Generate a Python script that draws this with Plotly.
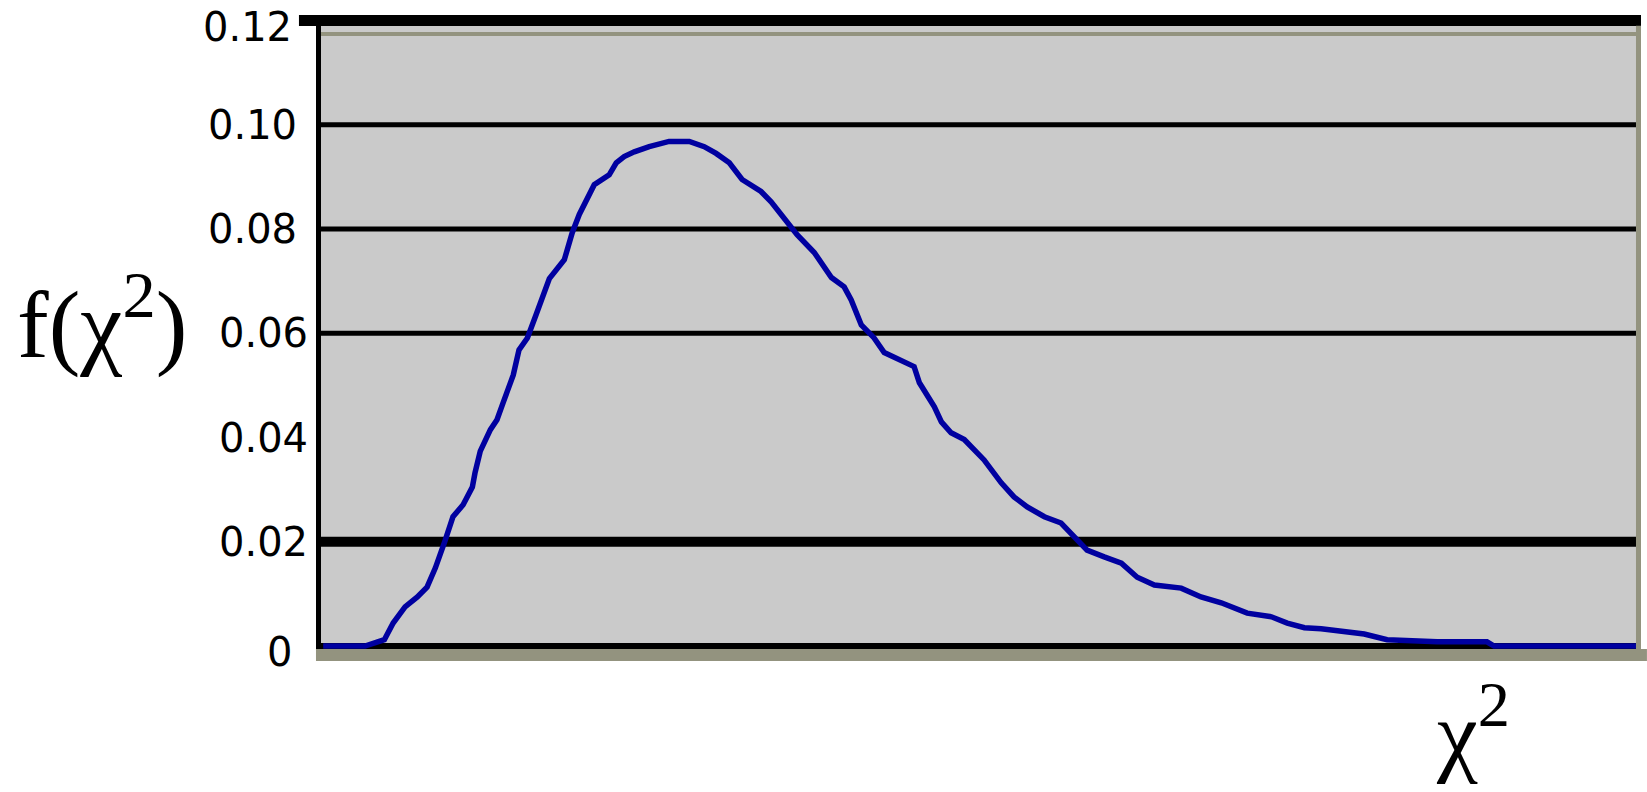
import plotly.graph_objects as go

# ---- data ----
chi_sq = [0.0, 0.95, 1.39, 1.59, 1.86, 2.14, 2.36, 2.55, 2.77, 2.95, 3.18, 3.39, 3.45, 3.57,
          3.80, 3.95, 4.09, 4.32, 4.45, 4.64, 4.84, 4.98, 5.14, 5.48, 5.66, 5.82, 6.0, 6.16,
          6.5, 6.66, 6.84, 7.07, 7.41, 7.86, 8.32, 8.66, 8.93, 9.23, 9.52, 9.95, 10.18,
          10.43, 10.77, 11.16, 11.55, 11.84, 12.0, 12.23, 12.52, 12.75, 13.14, 13.43, 13.55,
          13.89, 14.05, 14.27, 14.57, 14.75, 15.02, 15.41, 15.70, 16.0, 16.39, 16.77, 17.07,
          17.36, 17.75, 18.14, 18.5, 18.89, 19.5, 19.95, 20.41, 21.0, 21.55, 21.91, 22.30,
          22.68, 23.66, 24.18, 25.32, 26.45, 26.61, 30.0]
density = [0.0, 0.0, 0.0012, 0.0044, 0.0075, 0.0094, 0.0113, 0.0150, 0.0202, 0.0248, 0.0271,
           0.0305, 0.0332, 0.0374, 0.0415, 0.0434, 0.0467, 0.0520, 0.0568, 0.0591, 0.0636,
           0.0672, 0.0705, 0.0741, 0.0793, 0.0828, 0.0856, 0.0885, 0.0904, 0.0927, 0.0939,
           0.0948, 0.0958, 0.0968, 0.0968, 0.0958, 0.0945, 0.0927, 0.0895, 0.0872, 0.0852,
           0.0826, 0.0789, 0.0755, 0.0707, 0.0689, 0.0664, 0.0616, 0.0591, 0.0563, 0.0547,
           0.0536, 0.0505, 0.0459, 0.0430, 0.0409, 0.0396, 0.0380, 0.0357, 0.0313, 0.0286,
           0.0267, 0.0248, 0.0236, 0.0209, 0.0184, 0.0171, 0.0159, 0.0132, 0.0117, 0.0111,
           0.0094, 0.0083, 0.0063, 0.0056, 0.0044, 0.0035, 0.0033, 0.0023, 0.0012, 0.0008,
           0.0008, 0.0, 0.0]

tick_values = [0, 0.02, 0.04, 0.06, 0.08, 0.10, 0.12]
tick_labels = ["0", "0.02", "0.04", "0.06", "0.08", "0.10", "0.12"]
grid_values = [0, 0.02, 0.06, 0.08, 0.10, 0.12]   # no line drawn at 0.04

# ---- styles ----
grid_width = {0: 6, 0.02: 10, 0.06: 5, 0.08: 5, 0.10: 5, 0.12: 11}
grid_x0 = {0.12: -0.0167}
label_yshift = {0: -6, 0.12: -6}
label_xshift = {0: -27, 0.12: -27, 0.10: -22, 0.08: -22}
strip_color = "#93937f"

fig = go.Figure()
fig.add_trace(go.Scatter(x=chi_sq, y=density, mode="lines",
                         line=dict(color="#0000a0", width=5.5), showlegend=False,
                         hoverinfo="skip"))

shapes = []
for v in grid_values:
    shapes.append(dict(type="line", xref="paper", yref="y",
                       x0=grid_x0.get(v, 0), x1=1, y0=v, y1=v,
                       line=dict(color="black", width=grid_width[v]), layer="below"))
# coloured border strips (bottom, right, top)
shapes.append(dict(type="rect", xref="paper", yref="paper", x0=-0.0038, x1=1.0045,
                   y0=0, y1=-0.019, fillcolor=strip_color, line=dict(width=0),
                   layer="above"))
shapes.append(dict(type="rect", xref="paper", yref="paper", x0=0.9962, x1=1.0,
                   y0=0, y1=0.983, fillcolor=strip_color, line=dict(width=0),
                   layer="above"))
shapes.append(dict(type="rect", xref="paper", yref="paper", x0=0, x1=0.9962,
                   y0=0.967, y1=0.973, fillcolor=strip_color, line=dict(width=0),
                   layer="below"))

annotations = []
for v, t in zip(tick_values, tick_labels):
    annotations.append(dict(text=t, xref="paper", yref="y", x=0, y=v,
                            xanchor="right", yanchor="middle",
                            xshift=label_xshift.get(v, -11), yshift=label_yshift.get(v, 0),
                            showarrow=False,
                            font=dict(family="DejaVu Sans", size=40, color="black")))
annotations.append(dict(text="f(χ<sup>2</sup>)", xref="paper", yref="paper", x=0, y=0.522,
                        xanchor="center", yanchor="middle", xshift=-219, showarrow=False,
                        font=dict(family="Liberation Serif", size=95, color="black")))
annotations.append(dict(text="χ<sup>2</sup>", xref="paper", yref="paper", x=0.8727, y=0,
                        xanchor="center", yanchor="middle", yshift=-78, showarrow=False,
                        font=dict(family="Liberation Serif", size=92, color="black")))

fig.update_layout(
    width=1647, height=792,
    margin=dict(l=321, r=6, t=15, b=143, autoexpand=False),
    paper_bgcolor="white", plot_bgcolor="#cacaca",
    shapes=shapes,
    annotations=annotations,
    xaxis=dict(range=[-0.05, 29.95], showgrid=False, zeroline=False, showticklabels=False,
               ticks="", showline=False, fixedrange=True, automargin=False),
    yaxis=dict(range=[-0.000576, 0.12106], showticklabels=False,
               showgrid=False, zeroline=False, showline=True, linecolor="black",
               linewidth=5, ticks="", automargin=False, fixedrange=True),
)

fig.write_html("out.html")
